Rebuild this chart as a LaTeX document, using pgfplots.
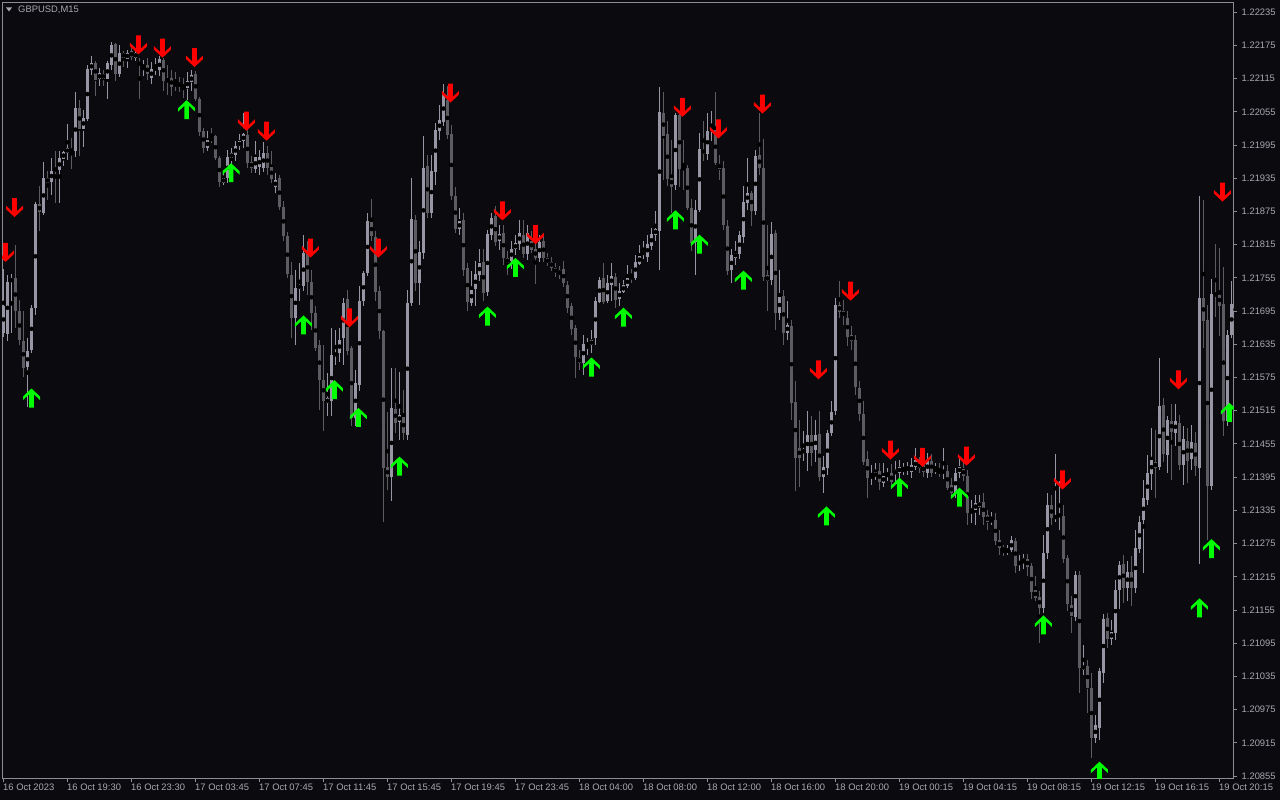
\documentclass[border=0pt]{standalone}
\usepackage{fontspec}
\setmainfont{Liberation Sans}
\usepackage{pgfplots}
\usepackage{pgfplotstable}
\pgfplotsset{compat=1.18}
\definecolor{bg}{RGB}{10,10,15}
\definecolor{axcol}{RGB}{140,140,148}
\definecolor{txtcol}{RGB}{168,168,176}
\definecolor{bull}{RGB}{150,150,164}
\definecolor{bear}{RGB}{92,92,98}
\definecolor{arrred}{RGB}{255,0,0}
\definecolor{arrgreen}{RGB}{0,255,0}
\newcommand\lbl{\fontsize{9.4}{11}\selectfont}

\pgfdeclareplotmark{dnarrow}{%
 \pgfpathmoveto{\pgfpoint{-2.3pt}{9.5pt}}%
 \pgfpathlineto{\pgfpoint{2.3pt}{9.5pt}}%
 \pgfpathlineto{\pgfpoint{2.3pt}{-3.8pt}}%
 \pgfpathlineto{\pgfpoint{8.5pt}{2pt}}%
 \pgfpathlineto{\pgfpoint{8.5pt}{-1.5pt}}%
 \pgfpathlineto{\pgfpoint{0pt}{-9.5pt}}%
 \pgfpathlineto{\pgfpoint{-8.5pt}{-1.5pt}}%
 \pgfpathlineto{\pgfpoint{-8.5pt}{2pt}}%
 \pgfpathlineto{\pgfpoint{-2.3pt}{-3.8pt}}%
 \pgfpathclose
 \pgfusepathqfill}
\pgfdeclareplotmark{uparrow}{%
 \pgfpathmoveto{\pgfpoint{-2.3pt}{-9.5pt}}%
 \pgfpathlineto{\pgfpoint{2.3pt}{-9.5pt}}%
 \pgfpathlineto{\pgfpoint{2.3pt}{3.8pt}}%
 \pgfpathlineto{\pgfpoint{8.5pt}{-2pt}}%
 \pgfpathlineto{\pgfpoint{8.5pt}{1.5pt}}%
 \pgfpathlineto{\pgfpoint{0pt}{9.5pt}}%
 \pgfpathlineto{\pgfpoint{-8.5pt}{1.5pt}}%
 \pgfpathlineto{\pgfpoint{-8.5pt}{-2pt}}%
 \pgfpathlineto{\pgfpoint{-2.3pt}{3.8pt}}%
 \pgfpathclose
 \pgfusepathqfill}

\pgfplotstableread{
i o h l c
0 1.21656 1.21772 1.21650 1.21706
1 1.21656 1.21762 1.21643 1.21749
2 1.21749 1.21762 1.21656 1.21756
3 1.21756 1.21816 1.21666 1.21695
4 1.21695 1.21715 1.21634 1.21643
5 1.21643 1.21695 1.21576 1.21594
6 1.21594 1.21647 1.21521 1.21623
7 1.21625 1.21706 1.21620 1.21702
8 1.21701 1.21892 1.21688 1.21889
9 1.21889 1.21923 1.21842 1.21874
10 1.21874 1.21964 1.21869 1.21936
11 1.21936 1.21950 1.21896 1.21928
12 1.21930 1.21973 1.21905 1.21950
13 1.21954 1.21986 1.21892 1.21950
14 1.21950 1.21986 1.21892 1.21972
15 1.21970 1.21986 1.21959 1.21982
16 1.21981 1.22033 1.21968 1.21990
17 1.21988 1.22009 1.21954 1.21984
18 1.21984 1.22092 1.21973 1.22063
19 1.22063 1.22076 1.21975 1.22024
20 1.22024 1.22058 1.21991 1.22045
21 1.22042 1.22140 1.22040 1.22133
22 1.22131 1.22156 1.22122 1.22144
23 1.22144 1.22147 1.22085 1.22113
24 1.22115 1.22135 1.22102 1.22126
25 1.22124 1.22131 1.22102 1.22115
26 1.22115 1.22149 1.22080 1.22144
27 1.22140 1.22181 1.22131 1.22176
28 1.22178 1.22180 1.22113 1.22124
29 1.22124 1.22176 1.22118 1.22162
30 1.22163 1.22167 1.22138 1.22153
31 1.22151 1.22167 1.22135 1.22163
32 1.22165 1.22170 1.22149 1.22154
33 1.22154 1.22168 1.22149 1.22163
34 1.22145 1.22153 1.22078 1.22142
35 1.22136 1.22149 1.22120 1.22140
36 1.22140 1.22153 1.22113 1.22124
37 1.22117 1.22145 1.22106 1.22133
38 1.22131 1.22153 1.22122 1.22135
39 1.22131 1.22156 1.22120 1.22151
40 1.22149 1.22153 1.22094 1.22111
41 1.22115 1.22140 1.22085 1.22109
42 1.22117 1.22131 1.22083 1.22100
43 1.22108 1.22127 1.22094 1.22102
44 1.22106 1.22118 1.22090 1.22102
45 1.22104 1.22117 1.22080 1.22099
46 1.22100 1.22127 1.22076 1.22113
47 1.22109 1.22131 1.22094 1.22122
48 1.22124 1.22131 1.22076 1.22078
49 1.22080 1.22083 1.22013 1.22020
50 1.22020 1.22026 1.21982 1.21991
51 1.21991 1.22022 1.21986 1.22006
52 1.22009 1.22026 1.22000 1.22004
53 1.22011 1.22013 1.21968 1.21972
54 1.21972 1.21977 1.21921 1.21928
55 1.21928 1.21950 1.21923 1.21937
56 1.21936 1.21986 1.21927 1.21973
57 1.21973 1.21990 1.21950 1.21981
58 1.21977 1.22004 1.21968 1.21993
59 1.21993 1.22015 1.21986 1.22002
60 1.22002 1.22054 1.21990 1.22015
61 1.22015 1.22031 1.21954 1.21963
62 1.21964 1.21977 1.21946 1.21954
63 1.21952 1.22004 1.21946 1.21973
64 1.21954 1.21986 1.21941 1.21973
65 1.21954 1.22000 1.21946 1.21982
66 1.21982 1.21993 1.21941 1.21954
67 1.21957 1.21986 1.21928 1.21936
68 1.21919 1.21946 1.21910 1.21932
69 1.21936 1.21941 1.21878 1.21883
70 1.21883 1.21896 1.21823 1.21831
71 1.21833 1.21838 1.21755 1.21764
72 1.21762 1.21783 1.21647 1.21684
73 1.21683 1.21769 1.21634 1.21738
74 1.21737 1.21783 1.21715 1.21744
75 1.21740 1.21833 1.21733 1.21801
76 1.21801 1.21823 1.21724 1.21749
77 1.21749 1.21769 1.21661 1.21692
78 1.21692 1.21706 1.21625 1.21630
79 1.21634 1.21643 1.21516 1.21571
80 1.21571 1.21634 1.21480 1.21534
81 1.21529 1.21585 1.21507 1.21538
82 1.21534 1.21665 1.21507 1.21616
83 1.21616 1.21661 1.21598 1.21621
84 1.21620 1.21665 1.21603 1.21643
85 1.21648 1.21719 1.21598 1.21711
86 1.21719 1.21733 1.21616 1.21625
87 1.21629 1.21634 1.21489 1.21503
88 1.21503 1.21589 1.21489 1.21566
89 1.21562 1.21742 1.21553 1.21713
90 1.21713 1.21769 1.21706 1.21764
91 1.21764 1.21873 1.21760 1.21858
92 1.21856 1.21898 1.21823 1.21831
93 1.21829 1.21842 1.21715 1.21729
94 1.21731 1.21742 1.21647 1.21659
95 1.21659 1.21661 1.21314 1.21412
96 1.21412 1.21512 1.21372 1.21395
97 1.21395 1.21593 1.21354 1.21520
98 1.21520 1.21593 1.21476 1.21494
99 1.21496 1.21585 1.21462 1.21509
100 1.21505 1.21553 1.21462 1.21475
101 1.21473 1.21733 1.21462 1.21711
102 1.21710 1.21936 1.21706 1.21862
103 1.21862 1.21869 1.21733 1.21747
104 1.21747 1.21823 1.21706 1.21803
105 1.21801 1.22013 1.21791 1.21954
106 1.21957 1.21977 1.21864 1.21873
107 1.21873 1.21977 1.21864 1.21950
108 1.21948 1.22036 1.21923 1.22024
109 1.22022 1.22067 1.22004 1.22042
110 1.22038 1.22106 1.22031 1.22085
111 1.22076 1.22102 1.22007 1.22013
112 1.22015 1.22031 1.21896 1.21903
113 1.21903 1.21921 1.21838 1.21844
114 1.21844 1.21883 1.21833 1.21858
115 1.21860 1.21873 1.21760 1.21769
116 1.21774 1.21783 1.21697 1.21713
117 1.21711 1.21769 1.21706 1.21735
118 1.21735 1.21787 1.21706 1.21762
119 1.21762 1.21809 1.21751 1.21783
120 1.21785 1.21809 1.21715 1.21729
121 1.21731 1.21842 1.21724 1.21835
122 1.21833 1.21873 1.21823 1.21865
123 1.21867 1.21887 1.21814 1.21821
124 1.21821 1.21851 1.21805 1.21835
125 1.21837 1.21851 1.21778 1.21791
126 1.21791 1.21805 1.21760 1.21782
127 1.21787 1.21823 1.21772 1.21809
128 1.21807 1.21833 1.21796 1.21818
129 1.21818 1.21860 1.21805 1.21837
130 1.21833 1.21860 1.21791 1.21798
131 1.21798 1.21851 1.21787 1.21837
132 1.21823 1.21842 1.21801 1.21807
133 1.21807 1.21823 1.21746 1.21791
134 1.21791 1.21833 1.21783 1.21820
135 1.21823 1.21833 1.21783 1.21792
136 1.21792 1.21801 1.21778 1.21783
137 1.21785 1.21794 1.21769 1.21774
138 1.21774 1.21783 1.21758 1.21764
139 1.21769 1.21778 1.21755 1.21762
140 1.21771 1.21787 1.21740 1.21746
141 1.21744 1.21751 1.21693 1.21702
142 1.21704 1.21711 1.21652 1.21663
143 1.21665 1.21670 1.21575 1.21612
144 1.21612 1.21625 1.21589 1.21602
145 1.21602 1.21652 1.21580 1.21636
146 1.21634 1.21648 1.21616 1.21638
147 1.21634 1.21661 1.21621 1.21643
148 1.21647 1.21722 1.21634 1.21713
149 1.21713 1.21758 1.21710 1.21753
150 1.21755 1.21783 1.21710 1.21713
151 1.21713 1.21760 1.21710 1.21746
152 1.21742 1.21783 1.21715 1.21758
153 1.21758 1.21764 1.21701 1.21715
154 1.21717 1.21746 1.21706 1.21733
155 1.21731 1.21751 1.21728 1.21744
156 1.21742 1.21778 1.21737 1.21756
157 1.21758 1.21772 1.21747 1.21755
158 1.21756 1.21796 1.21751 1.21785
159 1.21782 1.21814 1.21778 1.21796
160 1.21796 1.21823 1.21791 1.21805
161 1.21794 1.21833 1.21783 1.21818
162 1.21814 1.21846 1.21805 1.21835
163 1.21833 1.21876 1.21823 1.21844
164 1.21840 1.22100 1.21769 1.22056
165 1.22053 1.22090 1.21932 1.22013
166 1.22015 1.22040 1.21923 1.21934
167 1.21937 1.22004 1.21873 1.21921
168 1.21923 1.22054 1.21914 1.22051
169 1.22049 1.22054 1.21919 1.21952
170 1.21954 1.22004 1.21914 1.21952
171 1.21955 1.21959 1.21878 1.21883
172 1.21883 1.21899 1.21805 1.21820
173 1.21820 1.21896 1.21760 1.21878
174 1.21878 1.22017 1.21874 1.21988
175 1.21988 1.22040 1.21968 1.21981
176 1.21981 1.22053 1.21968 1.22022
177 1.22020 1.22058 1.22004 1.22027
178 1.22022 1.22090 1.21959 1.21963
179 1.21963 1.21977 1.21932 1.21954
180 1.21954 1.21968 1.21842 1.21851
181 1.21849 1.21860 1.21760 1.21769
182 1.21769 1.21809 1.21747 1.21796
183 1.21792 1.21823 1.21778 1.21801
184 1.21798 1.21842 1.21791 1.21833
185 1.21831 1.21923 1.21820 1.21894
186 1.21891 1.21972 1.21878 1.21909
187 1.21909 1.21914 1.21851 1.21876
188 1.21876 1.21986 1.21869 1.21975
189 1.21977 1.22053 1.21941 1.21954
190 1.21954 1.22007 1.21751 1.21758
191 1.21760 1.21851 1.21697 1.21749
192 1.21751 1.21856 1.21742 1.21835
193 1.21837 1.21842 1.21661 1.21692
194 1.21692 1.21769 1.21679 1.21722
195 1.21722 1.21733 1.21634 1.21656
196 1.21656 1.21715 1.21643 1.21670
197 1.21670 1.21679 1.21498 1.21530
198 1.21530 1.21571 1.21372 1.21430
199 1.21449 1.21498 1.21377 1.21430
200 1.21439 1.21480 1.21426 1.21447
201 1.21440 1.21516 1.21408 1.21471
202 1.21471 1.21507 1.21417 1.21440
203 1.21444 1.21498 1.21422 1.21471
204 1.21473 1.21516 1.21390 1.21395
205 1.21395 1.21435 1.21367 1.21412
206 1.21412 1.21480 1.21399 1.21475
207 1.21475 1.21534 1.21471 1.21514
208 1.21514 1.21719 1.21507 1.21706
209 1.21706 1.21751 1.21683 1.21693
210 1.21695 1.21715 1.21670 1.21686
211 1.21684 1.21697 1.21634 1.21650
212 1.21652 1.21668 1.21625 1.21641
213 1.21643 1.21652 1.21544 1.21558
214 1.21558 1.21571 1.21498 1.21511
215 1.21511 1.21534 1.21417 1.21424
216 1.21430 1.21444 1.21359 1.21395
217 1.21395 1.21417 1.21381 1.21397
218 1.21397 1.21421 1.21390 1.21404
219 1.21406 1.21421 1.21372 1.21386
220 1.21386 1.21422 1.21377 1.21399
221 1.21397 1.21413 1.21390 1.21401
222 1.21403 1.21419 1.21375 1.21386
223 1.21401 1.21426 1.21386 1.21408
224 1.21403 1.21426 1.21394 1.21415
225 1.21408 1.21422 1.21399 1.21410
226 1.21410 1.21424 1.21401 1.21412
227 1.21404 1.21430 1.21394 1.21417
228 1.21413 1.21449 1.21408 1.21426
229 1.21421 1.21433 1.21404 1.21412
230 1.21417 1.21433 1.21397 1.21404
231 1.21404 1.21440 1.21394 1.21426
232 1.21426 1.21437 1.21397 1.21404
233 1.21408 1.21422 1.21401 1.21410
234 1.21408 1.21421 1.21397 1.21403
235 1.21403 1.21449 1.21394 1.21408
236 1.21408 1.21417 1.21372 1.21377
237 1.21381 1.21394 1.21357 1.21367
238 1.21367 1.21413 1.21359 1.21403
239 1.21403 1.21430 1.21394 1.21415
240 1.21410 1.21426 1.21390 1.21397
241 1.21397 1.21408 1.21309 1.21331
242 1.21332 1.21354 1.21314 1.21338
243 1.21338 1.21363 1.21309 1.21349
244 1.21341 1.21363 1.21327 1.21350
245 1.21350 1.21367 1.21309 1.21323
246 1.21327 1.21336 1.21300 1.21314
247 1.21316 1.21332 1.21309 1.21320
248 1.21318 1.21331 1.21273 1.21280
249 1.21282 1.21300 1.21255 1.21268
250 1.21268 1.21273 1.21253 1.21262
251 1.21262 1.21273 1.21255 1.21264
252 1.21264 1.21289 1.21260 1.21282
253 1.21280 1.21287 1.21223 1.21236
254 1.21238 1.21255 1.21227 1.21243
255 1.21242 1.21258 1.21231 1.21249
256 1.21249 1.21258 1.21218 1.21233
257 1.21235 1.21242 1.21177 1.21189
258 1.21191 1.21218 1.21173 1.21178
259 1.21178 1.21191 1.21097 1.21159
260 1.21159 1.21291 1.21151 1.21258
261 1.21258 1.21367 1.21249 1.21345
262 1.21345 1.21363 1.21309 1.21322
263 1.21323 1.21437 1.21314 1.21325
264 1.21325 1.21390 1.21300 1.21327
265 1.21325 1.21345 1.21240 1.21249
266 1.21249 1.21255 1.21155 1.21166
267 1.21166 1.21182 1.21114 1.21146
268 1.21144 1.21227 1.21137 1.21220
269 1.21220 1.21227 1.21006 1.21052
270 1.21049 1.21092 1.21038 1.21056
271 1.21056 1.21065 1.20970 1.21015
272 1.21016 1.21042 1.20888 1.20924
273 1.20924 1.20966 1.20916 1.20947
274 1.20943 1.21051 1.20920 1.21045
275 1.21043 1.21148 1.21024 1.21139
276 1.21141 1.21151 1.21087 1.21103
277 1.21103 1.21137 1.21092 1.21117
278 1.21115 1.21209 1.21101 1.21193
279 1.21193 1.21245 1.21159 1.21238
280 1.21240 1.21255 1.21169 1.21196
281 1.21196 1.21245 1.21173 1.21225
282 1.21225 1.21255 1.21164 1.21196
283 1.21196 1.21300 1.21187 1.21268
284 1.21268 1.21327 1.21260 1.21316
285 1.21318 1.21390 1.21222 1.21358
286 1.21354 1.21435 1.21345 1.21403
287 1.21401 1.21484 1.21372 1.21426
288 1.21424 1.21480 1.21358 1.21413
289 1.21415 1.21610 1.21408 1.21525
290 1.21527 1.21538 1.21422 1.21437
291 1.21435 1.21507 1.21403 1.21498
292 1.21498 1.21527 1.21390 1.21478
293 1.21476 1.21529 1.21453 1.21498
294 1.21494 1.21507 1.21408 1.21417
295 1.21417 1.21489 1.21381 1.21464
296 1.21462 1.21484 1.21386 1.21426
297 1.21428 1.21489 1.21408 1.21460
298 1.21458 1.21478 1.21399 1.21415
299 1.21413 1.21905 1.21240 1.21720
300 1.21719 1.21898 1.21629 1.21677
301 1.21679 1.21706 1.21282 1.21379
302 1.21381 1.21753 1.21372 1.21728
303 1.21729 1.21818 1.21686 1.21724
304 1.21726 1.21809 1.21650 1.21706
305 1.21708 1.21776 1.21469 1.21498
306 1.21498 1.21661 1.21489 1.21652
307 1.21652 1.21749 1.21647 1.21708
}\candles

\pgfplotstableread{
x y
2.75 1.21882
0.5 1.21801
33.75 1.22176
39.75 1.22170
47.75 1.22153
60.75 1.22038
65.75 1.22020
76.75 1.21809
86.5 1.21683
93.75 1.21809
111.75 1.22089
124.75 1.21876
133 1.21833
169.75 1.22063
178.75 1.22024
189.75 1.22069
203.75 1.21589
211.75 1.21731
221.75 1.21444
229.75 1.21431
240.75 1.21433
264.75 1.21390
293.75 1.21571
304.75 1.21910
}\dnarr

\pgfplotstableread{
x y
7 1.21538
45.8 1.22059
56.9 1.21945
75 1.21670
82.75 1.21553
88.75 1.21503
99 1.21415
121 1.21686
128 1.21774
147 1.21594
155 1.21684
168 1.21860
174 1.21816
185 1.21751
205.75 1.21325
224 1.21377
239 1.21359
260 1.21128
274 1.20864
299 1.21159
302 1.21266
306.5 1.21512
}\uparr

\begin{document}
\begin{tikzpicture}
\fill[bg] (-2pt,-21pt) rectangle (1278pt,779pt);
\begin{axis}[
  at={(0pt,0pt)}, anchor=south west,
  scale only axis, width=1232pt, height=776pt,
  xmin=-0.375, xmax=307.625, ymin=1.208498, ymax=1.222516,
  axis line style={draw=axcol, line width=1pt},
  xtick={0,16,32,48,64,80,96,112,128,144,160,176,192,208,224,240,256,272,288,304},
  xticklabels={16 Oct 2023,16 Oct 19:30,16 Oct 23:30,17 Oct 03:45,17 Oct 07:45,17 Oct 11:45,17 Oct 15:45,17 Oct 19:45,17 Oct 23:45,18 Oct 04:00,18 Oct 08:00,18 Oct 12:00,18 Oct 16:00,18 Oct 20:00,19 Oct 00:15,19 Oct 04:15,19 Oct 08:15,19 Oct 12:15,19 Oct 16:15,19 Oct 20:15},
  ytick={1.20855,1.20915,1.20975,1.21035,1.21095,1.21155,1.21215,1.21275,1.21335,1.21395,1.21455,1.21515,1.21575,1.21635,1.21695,1.21755,1.21815,1.21875,1.21935,1.21995,1.22055,1.22115,1.22175,1.22235},
  yticklabels={1.20855,1.20915,1.20975,1.21035,1.21095,1.21155,1.21215,1.21275,1.21335,1.21395,1.21455,1.21515,1.21575,1.21635,1.21695,1.21755,1.21815,1.21875,1.21935,1.21995,1.22055,1.22115,1.22175,1.22235},
  xtick pos=left, ytick pos=right,
  tick align=outside, major tick length=3.5pt,
  tick style={draw=axcol, line width=1pt},
  xticklabel style={anchor=north west, inner sep=0pt, text=txtcol, font=\lbl, yshift=-1.5pt, xshift=-0.5pt},
  yticklabel style={anchor=west, inner sep=0pt, text=txtcol, font=\lbl, xshift=4pt},
  clip marker paths=true,
]
% wicks
\addplot[only marks, mark=none, forget plot,
  restrict expr to domain={\thisrow{c}-\thisrow{o}}{0:1},
  error bars/.cd, y dir=both, y explicit, error mark=none,
  error bar style={draw=bull, line width=1pt}]
  table[x=i, y expr={(\thisrow{h}+\thisrow{l})/2}, y error expr={(\thisrow{h}-\thisrow{l})/2}] {\candles};
\addplot[only marks, mark=none, forget plot,
  restrict expr to domain={\thisrow{c}-\thisrow{o}}{-1:0},
  error bars/.cd, y dir=both, y explicit, error mark=none,
  error bar style={draw=bear, line width=1pt}]
  table[x=i, y expr={(\thisrow{h}+\thisrow{l})/2}, y error expr={(\thisrow{h}-\thisrow{l})/2}] {\candles};
% bodies
\addplot[only marks, mark=none, forget plot,
  restrict expr to domain={\thisrow{c}-\thisrow{o}}{0:1},
  error bars/.cd, y dir=both, y explicit, error mark=none,
  error bar style={draw=bull, line width=3pt}]
  table[x=i, y expr={(\thisrow{o}+\thisrow{c})/2}, y error expr={abs(\thisrow{c}-\thisrow{o})/2}] {\candles};
\addplot[only marks, mark=none, forget plot,
  restrict expr to domain={\thisrow{c}-\thisrow{o}}{-1:0},
  error bars/.cd, y dir=both, y explicit, error mark=none,
  error bar style={draw=bear, line width=3pt}]
  table[x=i, y expr={(\thisrow{o}+\thisrow{c})/2}, y error expr={abs(\thisrow{c}-\thisrow{o})/2}] {\candles};
% arrows
\addplot[only marks, mark=dnarrow, color=arrred, mark options={fill=arrred, draw=none}] table[x=x, y=y] {\dnarr};
\addplot[only marks, mark=uparrow, color=arrgreen, mark options={fill=arrgreen, draw=none}] table[x=x, y=y] {\uparr};
\end{axis}
\fill[txtcol] (4pt,771.5pt) -- (10pt,771.5pt) -- (7pt,767.5pt) -- cycle;
\node[anchor=west, inner sep=0pt, text=txtcol, font=\lbl] at (16pt,769pt) {GBPUSD,M15};
\end{tikzpicture}
\end{document}
